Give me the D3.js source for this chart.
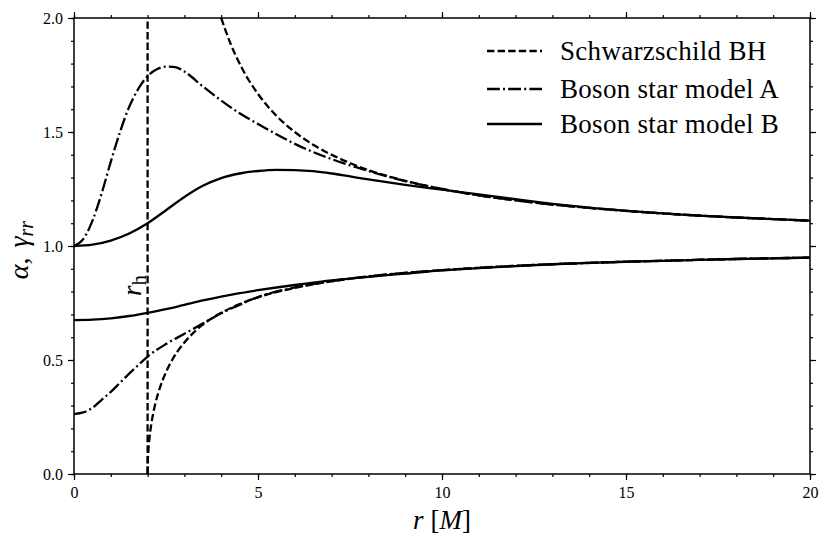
<!DOCTYPE html>
<html><head><meta charset="utf-8">
<script src="https://cdn.jsdelivr.net/npm/d3@7"></script>
<style>body{margin:0;background:#fff}svg{display:block}text{font-family:"Liberation Serif","DejaVu Serif",serif;fill:#000}</style>
</head><body>
<script>
// ---- data ----
const schwGammaR = [4,4.25,4.5,4.75,5,5.5,6,6.5,7,7.5,8,9,10,11,12,13,14,15,16,17,18,19,20];
const schwGamma  = [2.0,1.889,1.8,1.727,1.667,1.571,1.5,1.444,1.4,1.364,1.333,1.286,1.25,1.222,1.2,1.182,1.167,1.154,1.143,1.133,1.125,1.118,1.111];
const schwAlphaR = [2,2.005,2.02,2.05,2.1,2.2,2.3,2.4,2.6,2.8,3,3.25,3.5,4,4.5,5,5.5,6,7,8,9,10,12,14,16,18,20];
const schwAlpha  = [0,0.05,0.1,0.156,0.218,0.302,0.361,0.408,0.480,0.535,0.577,0.620,0.655,0.707,0.745,0.775,0.798,0.816,0.845,0.866,0.882,0.894,0.913,0.926,0.935,0.943,0.949];
const horizonR = 2;

const aGammaR = [0,0.25,0.5,0.75,1,1.25,1.5,1.75,2,2.25,2.5,2.75,3,3.5,4,4.5,5,5.5,6,6.5,7,7.5,8,9,10,11,12,13,14,15,16,17,18,19,20];
const aGamma  = [1.0,1.03,1.11,1.23,1.37,1.50,1.61,1.69,1.745,1.775,1.787,1.785,1.765,1.70,1.638,1.582,1.535,1.49,1.448,1.412,1.381,1.354,1.329,1.285,1.25,1.222,1.2,1.182,1.167,1.154,1.143,1.133,1.125,1.118,1.111];
const aAlphaR = [0,0.25,0.5,0.75,1,1.25,1.5,1.75,2,2.5,3,3.5,4,4.5,5,6,7,8,10,12,15,20];
const aAlpha  = [0.263,0.27,0.29,0.325,0.36,0.40,0.44,0.478,0.515,0.57,0.615,0.66,0.705,0.742,0.776,0.818,0.846,0.867,0.894,0.913,0.931,0.949];

const bGammaR = [0,0.5,1,1.5,2,2.5,3,3.5,4,4.5,5,5.5,6,6.5,7,7.5,8,9,10,11,12,13,14,16,18,20];
const bGamma  = [1.0,1.006,1.024,1.055,1.10,1.157,1.215,1.264,1.298,1.318,1.329,1.334,1.333,1.328,1.318,1.305,1.292,1.268,1.247,1.226,1.205,1.185,1.168,1.143,1.125,1.111];
const bAlphaR = [0,0.5,1,1.5,2,2.5,3,3.5,4,4.5,5,5.5,6,6.5,7,7.5,8,9,10,11,12,13,14,15,16,17,18,19,20];
const bAlpha  = [0.675,0.677,0.683,0.693,0.707,0.723,0.742,0.761,0.778,0.793,0.806,0.818,0.829,0.839,0.849,0.857,0.865,0.879,0.893,0.903,0.912,0.920,0.926,0.931,0.935,0.939,0.943,0.946,0.949];

const xMajor = [0,5,10,15,20];
const yMajor = [0.0,0.5,1.0,1.5,2.0];
const legendLabels = ["Schwarzschild BH","Boson star model A","Boson star model B"];

// ---- layout ----
const W=830,H=545, L=74,R=810,T=18,B=474;
const LW=2.3;
const DASH="7.4,3.2", DASHDOT="12.8,3.2,2,3.2";
const svg=d3.select("body").append("svg").attr("width",W).attr("height",H);
const x=d3.scaleLinear().domain([0,20]).range([L,R]);
const y=d3.scaleLinear().domain([0,2]).range([B,T]);

svg.append("clipPath").attr("id","clip").append("rect").attr("x",L).attr("y",T).attr("width",R-L).attr("height",B-T);
const g=svg.append("g").attr("clip-path","url(#clip)");
const line=d3.line().x(d=>x(d[0])).y(d=>y(d[1])).curve(d3.curveMonotoneX);
const zip=(a,b)=>a.map((v,i)=>[v,b[i]]);

function draw(rs,vs,dash){
  g.append("path").datum(zip(rs,vs)).attr("d",line).attr("fill","none").attr("stroke","#000")
   .attr("stroke-width",LW).attr("stroke-dasharray",dash||null);
}
draw(bGammaR,bGamma,null);
draw(bAlphaR,bAlpha,null);
draw(aGammaR,aGamma,DASHDOT);
draw(aAlphaR,aAlpha,DASHDOT);
draw(schwGammaR,schwGamma,DASH);
draw(schwAlphaR,schwAlpha,DASH);
g.append("line").attr("x1",x(horizonR)).attr("x2",x(horizonR)).attr("y1",y(0)).attr("y2",y(2))
 .attr("stroke","#000").attr("stroke-width",LW).attr("stroke-dasharray",DASH);

// ---- axes ----
const fmt=d3.format(".1f");
const ax=(gen,tr)=>svg.append("g").attr("transform",tr).call(gen);
const styleAx=s=>{s.attr("font-family",null);s.select(".domain").remove();s.selectAll("line").attr("stroke","#000").attr("stroke-width",1.2);s.selectAll("text").attr("font-size",16);};
const xMinor=d3.range(0,21,1), yMinor=d3.range(0,2.001,0.1);
ax(d3.axisBottom(x).tickValues(xMinor).tickSize(3).tickFormat(""),`translate(0,${B})`).call(styleAx);
ax(d3.axisBottom(x).tickValues(xMajor).tickSize(6).tickPadding(7).tickFormat(d3.format("d")),`translate(0,${B})`).call(styleAx);
ax(d3.axisTop(x).tickValues(xMinor).tickSize(3).tickFormat(""),`translate(0,${T})`).call(styleAx);
ax(d3.axisTop(x).tickValues(xMajor).tickSize(6).tickFormat(""),`translate(0,${T})`).call(styleAx);
ax(d3.axisLeft(y).tickValues(yMinor).tickSize(3).tickFormat(""),`translate(${L},0)`).call(styleAx);
ax(d3.axisLeft(y).tickValues(yMajor).tickSize(6).tickPadding(5).tickFormat(fmt),`translate(${L},0)`).call(styleAx);
ax(d3.axisRight(y).tickValues(yMinor).tickSize(3).tickFormat(""),`translate(${R},0)`).call(styleAx);
ax(d3.axisRight(y).tickValues(yMajor).tickSize(6).tickFormat(""),`translate(${R},0)`).call(styleAx);
svg.append("rect").attr("x",L).attr("y",T).attr("width",R-L).attr("height",B-T).attr("fill","none").attr("stroke","#000").attr("stroke-width",1.5);

// ---- labels ----
const xl=svg.append("text").attr("x",(L+R)/2).attr("y",529).attr("text-anchor","middle").attr("font-size",27);
xl.append("tspan").attr("font-style","italic").text("r");
xl.append("tspan").attr("dx",7).text("[");
xl.append("tspan").attr("font-style","italic").text("M");
xl.append("tspan").text("]");

const yl=svg.append("text").attr("transform",`translate(28,250) rotate(-90)`).attr("text-anchor","middle").attr("font-size",28);
yl.append("tspan").attr("font-style","italic").text("α");
yl.append("tspan").text(",");
yl.append("tspan").attr("font-style","italic").attr("dx",10).text("γ");
yl.append("tspan").attr("font-style","italic").attr("font-size",20).attr("dy",5).text("rr");

const rh=svg.append("text").attr("transform",`translate(141,296) rotate(-90)`).attr("font-size",27);
rh.append("tspan").attr("font-style","italic").text("r");
rh.append("tspan").attr("font-size",21).attr("dy",5).text("h");

// ---- legend ----
const legDash=[DASH,DASHDOT,null], legY=[51,89,124];
legendLabels.forEach((lab,i)=>{
  svg.append("line").attr("x1",487).attr("x2",542).attr("y1",legY[i]).attr("y2",legY[i])
    .attr("stroke","#000").attr("stroke-width",LW).attr("stroke-dasharray",legDash[i]);
  svg.append("text").attr("x",560).attr("y",legY[i]+9).attr("font-size",27).attr("letter-spacing",0.3).text(lab);
});
</script>
</body></html>
